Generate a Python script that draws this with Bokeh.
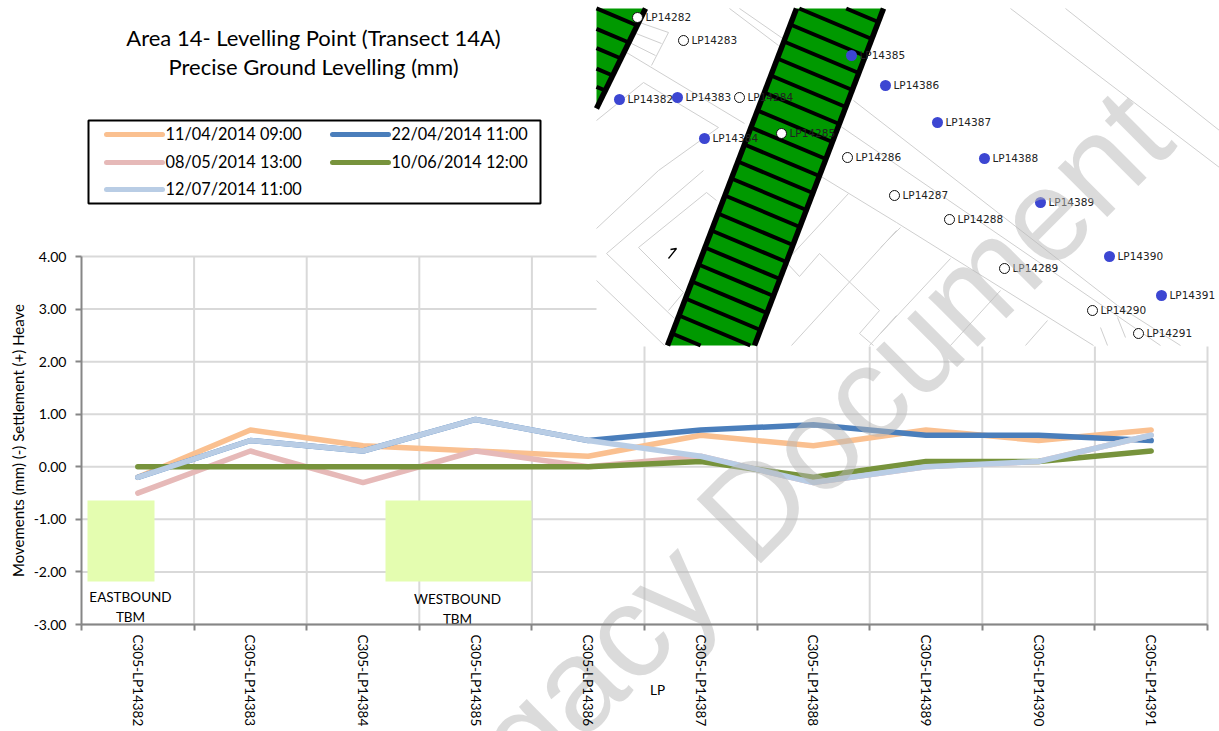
from bokeh.plotting import figure
from bokeh.embed import file_html
from bokeh.resources import INLINE
from bokeh.core.properties import value
from bokeh.models import Range1d, LinearAxis, FixedTicker, NumeralTickFormatter

# ---------- chart data ----------
categories = ["C305-LP14382", "C305-LP14383", "C305-LP14384", "C305-LP14385", "C305-LP14386",
              "C305-LP14387", "C305-LP14388", "C305-LP14389", "C305-LP14390", "C305-LP14391"]
y_ticks = [4, 3, 2, 1, 0, -1, -2, -3]
series_names = ["11/04/2014 09:00", "22/04/2014 11:00", "08/05/2014 13:00", "10/06/2014 12:00", "12/07/2014 11:00"]
s_0411 = [-0.2, 0.7, 0.4, 0.3, 0.2, 0.6, 0.4, 0.7, 0.5, 0.7]
s_0422 = [-0.2, 0.5, 0.3, 0.9, 0.5, 0.7, 0.8, 0.6, 0.6, 0.5]
s_0508 = [-0.5, 0.3, -0.3, 0.3, 0.0, 0.2, -0.3, 0.0, 0.1, 0.6]
s_0610 = [0.0, 0.0, 0.0, 0.0, 0.0, 0.1, -0.2, 0.1, 0.1, 0.3]
s_0712 = [-0.2, 0.5, 0.3, 0.9, 0.5, 0.2, -0.3, 0.0, 0.1, 0.6]
series_values = [s_0411, s_0422, s_0508, s_0610, s_0712]
series_colors = ["#fac090", "#4a7ebb", "#e6b9b8", "#77933c", "#b9cde5"]

# ---------- site-plan inset data (page pixels) ----------
blue_names = ["LP14382", "LP14383", "LP14384", "LP14385", "LP14386", "LP14387", "LP14388", "LP14389", "LP14390", "LP14391"]
blue_x = [619, 677, 704, 851, 885, 937, 984, 1040, 1109, 1161]
blue_y = [99, 97, 138, 55, 85, 122, 158, 202, 256, 295]
white_names = ["LP14282", "LP14283", "LP14284", "LP14285", "LP14286", "LP14287", "LP14288", "LP14289", "LP14290", "LP14291"]
white_x = [637, 683, 739, 781, 847, 894, 949, 1004, 1092, 1138]
white_y = [17, 40, 97, 133, 157, 195, 219, 268, 310, 333]
rung_main_y = [-10, 7, 24, 41, 58, 75, 92, 110, 127, 144, 161, 178, 195, 213, 230, 247, 264, 281, 298, 315, 333]
rung_left_y = [25, 42, 58, 75, 90]
plan_lines = [
    [(729, 8), (778, 45)], [(739, 8), (788, 42)],
    [(639, 22), (668, 32), (651, 65)], [(633, 32), (661, 43)], [(629, 42), (655, 55)],
    [(626, 52), (744, 123)], [(596, 120), (643, 82), (718, 127), (658, 170), (596, 228)],
    [(703, 170), (606, 253), (674, 318)], [(716, 200), (706, 192), (638, 247), (683, 292), (668, 310)],
    [(596, 280), (664, 345)], [(853, 100), (1117, 305), (1180, 345)], [(836, 123), (1160, 345)],
    [(1010, 8), (1219, 167)], [(1065, 8), (1219, 130)],
    [(819, 175), (896, 222), (1093, 345)], [(848, 193), (788, 258)],
    [(786, 262), (799, 276), (819, 253), (879, 310), (859, 333), (873, 345)],
    [(896, 230), (791, 345)], [(896, 315), (869, 345)], [(900, 227), (880, 247)],
    [(950, 258), (880, 333)], [(1000, 290), (950, 345)], [(1047, 320), (1025, 345)],
    [(1117, 317), (1125, 337)], [(1100, 327), (1107, 345)],
]

# ---------- page geometry ----------
W, H = 1219, 731
PAGE_L, PAGE_T = 0, 0
AX_L, AX_R, AX_T, AX_B = 81, 1207, 256, 624
PX_PER_CAT = (AX_R - AX_L) / 10
PX_PER_MM = (AX_B - AX_T) / 7
x0 = (PAGE_L - AX_L) / PX_PER_CAT
x1 = 10 + (PAGE_L + W - AX_R) / PX_PER_CAT
y1 = 4 + (AX_T - PAGE_T) / PX_PER_MM
y0 = -3 - (PAGE_T + H - AX_B) / PX_PER_MM

p = figure(width=W, height=H, output_backend="svg", toolbar_location=None,
           x_range=Range1d(x0, x1), y_range=Range1d(y0, y1),
           x_axis_location=None, y_axis_location=None, min_border=0)
p.outline_line_color = None
p.background_fill_color = "white"
p.grid.visible = False
p.extra_x_ranges["px"] = Range1d(PAGE_L, PAGE_L + W)
p.extra_y_ranges["py"] = Range1d(PAGE_T + H, PAGE_T)
PX = dict(x_range_name="px", y_range_name="py")
FONT = value("Lato")

# gridlines
GRID = "#d9d9d9"
p.segment(x0=[0] * 8, x1=[10] * 8, y0=y_ticks, y1=y_ticks, line_color=GRID, line_width=2)
xg = list(range(1, 11))
p.segment(x0=xg, x1=xg, y0=[-3] * 10, y1=[4] * 10, line_color=GRID, line_width=2)

# TBM zones
p.quad(left=[87, 385], right=[154, 531], top=[500, 500], bottom=[581, 581],
       fill_color="#e4fdb0", line_color=None, **PX)

# series
xc = [i + 0.5 for i in range(10)]
for vals, col in zip(series_values, series_colors):
    p.line(xc, vals, line_color=col, line_width=5.5, line_cap="round", line_join="round")

# axes
AXC = "#868686"
ya = LinearAxis(ticker=FixedTicker(ticks=y_ticks), formatter=NumeralTickFormatter(format="0.00"),
                fixed_location=0, bounds=(-3, 4), axis_line_color=AXC, axis_line_width=2,
                major_tick_line_color=AXC, major_tick_line_width=2, major_tick_in=0, major_tick_out=6,
                minor_tick_line_color=None, major_label_text_font="Lato", major_label_text_font_size="14px",
                major_label_text_color="#000000", major_label_standoff=9)
p.add_layout(ya, "left")
xa = LinearAxis(ticker=FixedTicker(ticks=list(range(11))), fixed_location=-3, bounds=(0, 10),
                axis_line_color=AXC, axis_line_width=2, major_tick_line_color=AXC, major_tick_line_width=2,
                major_tick_in=0, major_tick_out=6, minor_tick_line_color=None,
                major_label_text_font_size="0px", major_label_text_color=None)
p.add_layout(xa, "below")
xl = LinearAxis(ticker=FixedTicker(ticks=xc), fixed_location=-3, axis_line_color=None, major_tick_line_color=None,
                minor_tick_line_color=None, major_label_orientation="vertical", major_label_standoff=4,
                major_label_overrides={c: n for c, n in zip(xc, categories)},
                major_label_text_font="Lato", major_label_text_font_size="13.5px", major_label_text_color="#000000")
p.add_layout(xl, "below")

def txt(x, y, s, size, **kw):
    kw.setdefault("text_align", "center")
    kw.setdefault("text_baseline", "middle")
    kw.setdefault("text_color", "#000000")
    kw.setdefault("text_font", FONT)
    p.text(x=[x], y=[y], text=[s], text_font_size=f"{size}px", **PX, **kw)

txt(17, 440, "Movements (mm) (-) Settlement (+) Heave", 15, angle=90, angle_units="deg")
txt(657, 689, "LP", 13.5)
txt(130, 596, "EASTBOUND", 13.5)
txt(130, 616, "TBM", 13.5)
txt(457, 598, "WESTBOUND", 13.5)
txt(457, 618, "TBM", 13.5)

# titles
txt(313, 37, "Area 14- Levelling Point (Transect 14A)", 22)
txt(313, 66, "Precise Ground Levelling (mm)", 22)

# legend
p.quad(left=[88], right=[540], top=[120], bottom=[203], fill_color="white", line_color="#000000", line_width=2, **PX)
leg_x = [106, 332, 106, 332, 106]
leg_y = [134, 134, 162, 162, 189]
for i, (n, c) in enumerate(zip(series_names, series_colors)):
    p.line([leg_x[i], leg_x[i] + 56], [leg_y[i], leg_y[i]], line_color=c, line_width=5, line_cap="round", **PX)
    txt(leg_x[i] + 59, leg_y[i] - 1, n, 16.3, text_align="left")

# site plan
MAP_L, MAP_R, MAP_T, MAP_B = 596, PAGE_L + W, 8, 345
p.quad(left=[MAP_L], right=[MAP_R], top=[MAP_T], bottom=[MAP_B + 1], fill_color="white", line_color=None, **PX)
p.multi_line([[a for a, _ in l] for l in plan_lines], [[b for _, b in l] for l in plan_lines],
             line_color="#cfcfcf", line_width=1, **PX)
GREEN = "#009900"
# west tunnel
def lx(y):
    return 645 - 0.49 * (y - 8)
p.patch([596, 645, 596], [8, 8, 108], fill_color=GREEN, line_color=None, **PX)
p.line([645, 596], [8, 108], line_color="#000000", line_width=5.5, **PX)
for y in rung_left_y:
    xr = lx(y)
    p.line([xr, 596], [y, y - 0.42 * (xr - 596)], line_color="#000000", line_width=4, **PX)
# east tunnel
def tl(y):
    return 796 - (y - 8) * 129 / 337
p.patch([tl(8), tl(8) + 87, tl(MAP_B) + 87, tl(MAP_B)], [8, 8, MAP_B, MAP_B], fill_color=GREEN, line_color=None, **PX)
RUNG_DX, RUNG_DY = 74.9, 31.5
for y in rung_main_y:
    xa0, ya0, xb0, yb0 = tl(y), y, tl(y) + RUNG_DX, y + RUNG_DY
    if ya0 < MAP_T:
        t = (MAP_T - ya0) / RUNG_DY
        xa0, ya0 = xa0 + t * RUNG_DX, MAP_T
    if yb0 > MAP_B:
        t = (MAP_B - ya0) / (yb0 - ya0)
        xb0, yb0 = xa0 + t * (xb0 - xa0), MAP_B
    p.line([xa0, xb0], [ya0, yb0], line_color="#000000", line_width=4, **PX)
for dx in (0, 87):
    p.line([tl(8) + dx, tl(MAP_B) + dx], [8, MAP_B], line_color="#000000", line_width=5.5, **PX)
p.line([668, 676, 670], [258, 248, 249], line_color="#000000", line_width=1.3, **PX)

p.scatter(white_x, white_y, marker="circle", size=10, fill_color="white", line_color="#111111", line_width=1, **PX)
p.scatter(blue_x, blue_y, marker="circle", size=11, fill_color="#3c46d2", line_color=None, **PX)
for xs, ys, ns in ((white_x, white_y, white_names), (blue_x, blue_y, blue_names)):
    p.text(x=[a + 8 for a in xs], y=[b - 1 for b in ys], text=ns, text_font=value("DejaVu Sans"),
           text_font_size="10.5px", text_color="#222222", text_align="left", text_baseline="middle", **PX)

# watermark
p.text(x=[1146], y=[113], text=["Legacy Document"], angle=45, angle_units="deg", text_align="right",
       text_baseline="alphabetic", text_font=value("Liberation Sans"),
       text_font_size="132px", text_color="#b8b8b8", text_alpha=0.5, **PX)

open("out.html", "w").write(file_html(p, INLINE))
